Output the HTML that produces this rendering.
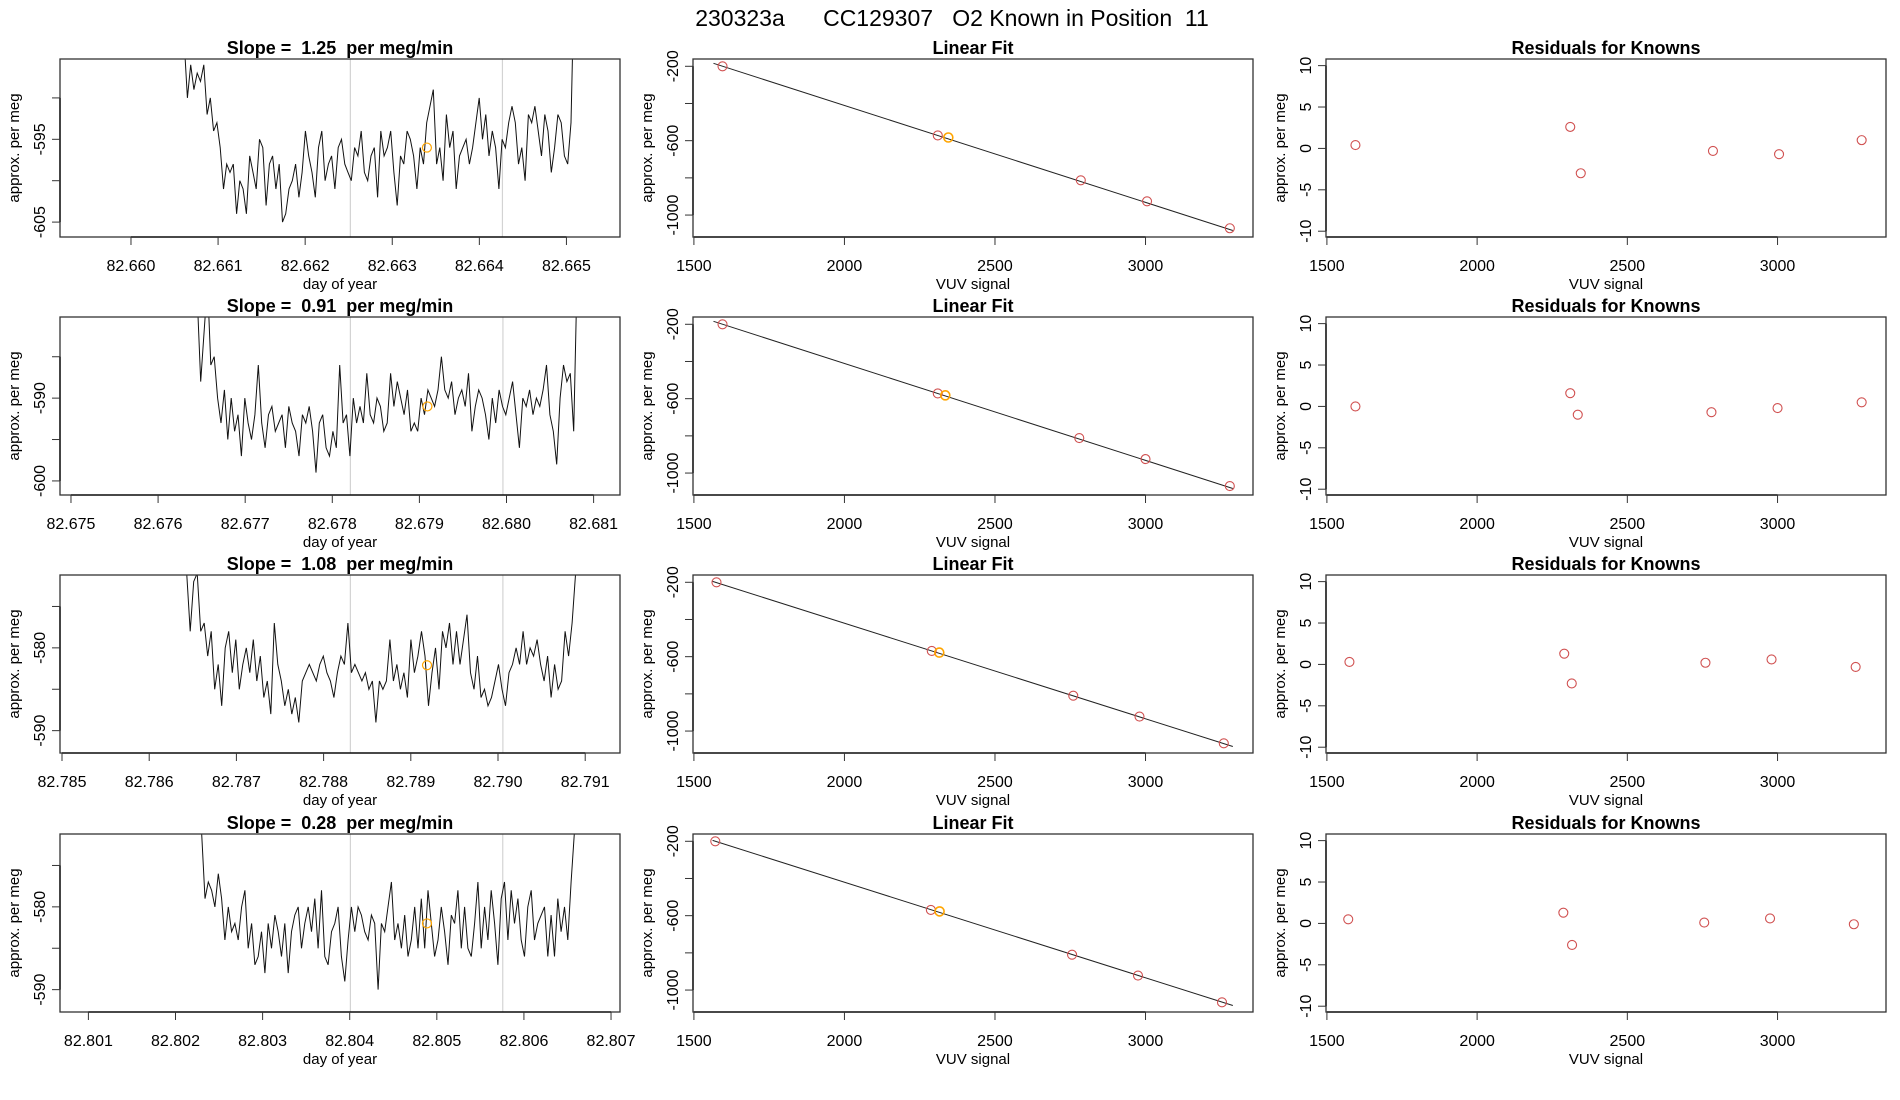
<!DOCTYPE html>
<html><head><meta charset="utf-8"><style>
html,body{margin:0;padding:0;background:#fff;}
svg{display:block;font-family:"Liberation Sans",sans-serif;}
</style></head><body>
<svg id="chart" width="1900" height="1100" viewBox="0 0 1900 1100" xmlns="http://www.w3.org/2000/svg">
<text x="952" y="26" font-size="23" text-anchor="middle" xml:space="preserve">230323a      CC129307   O2 Known in Position  11</text>
</svg>
<script>
// ---- data ----
const slopeLabels = ["1.25","0.91","1.08","0.28"];
const tsStart = [82.66061, 82.67645, 82.78643, 82.80230];
const tsEnd = [82.66509, 82.68081, 82.79089, 82.80658];
const xDomains = [[82.659185,82.665615],[82.674874,82.681303],[82.784977,82.791399],[82.800674,82.807103]];
const yDomains = [[-606.8,-585.3],[-601.7,-580.2],[-592.7,-571.2],[-592.7,-571.2]];
const xTicks = [[82.660,82.661,82.662,82.663,82.664,82.665],[82.675,82.676,82.677,82.678,82.679,82.680,82.681],[82.785,82.786,82.787,82.788,82.789,82.790,82.791],[82.801,82.802,82.803,82.804,82.805,82.806,82.807]];
const yTicks = [[-590,-595,-600,-605],[-585,-590,-595,-600],[-575,-580,-585,-590],[-575,-580,-585,-590]];
const yTickShown = [[-595,-605],[-590,-600],[-580,-590],[-580,-590]];
const greyLines = [[82.662519,82.664265],[82.678208,82.679959],[82.788307,82.790056],[82.804008,82.805757]];
const markX = [82.663398,82.679092,82.789186,82.804887];
const markY = [-596.0,-591.0,-582.1,-582.0];
const series1 = [-583,-590,-586,-589,-587,-588,-586,-592,-590,-594,-593,-596,-601,-598,-599,-598,-604,-600,-601,-604,-597,-599,-601,-595,-596,-603,-598,-597,-601,-598,-605,-604,-601,-600,-598,-602,-599,-594,-597,-599,-602,-596,-594,-600,-598,-597,-601,-596,-595,-598,-599,-600,-596,-597,-594,-599,-600,-597,-596,-602,-594,-597,-596,-594,-599,-603,-597,-598,-594,-595,-597,-601,-596,-598,-593,-591,-589,-598,-596,-600,-592,-596,-594,-601,-597,-596,-595,-598,-596,-593,-590,-595,-592,-597,-594,-596,-601,-595,-596,-593,-591,-593,-598,-596,-600,-592,-593,-591,-594,-597,-592,-594,-599,-596,-592,-593,-597,-598,-593,-575];
const series2 = [-578,-588,-582,-576,-586,-585,-590,-593,-589,-595,-590,-594,-592,-597,-590,-593,-595,-592,-586,-593,-596,-592,-591,-594,-593,-592,-596,-591,-593,-594,-597,-592,-593,-591,-594,-599,-593,-592,-596,-597,-594,-596,-586,-593,-592,-597,-590,-593,-591,-593,-587,-592,-593,-590,-591,-594,-593,-587,-591,-588,-590,-592,-589,-594,-593,-594,-590,-592,-589,-590,-591,-589,-585,-589,-590,-588,-592,-590,-589,-591,-587,-594,-591,-589,-590,-592,-595,-590,-593,-589,-591,-592,-590,-588,-592,-596,-590,-591,-589,-592,-590,-591,-589,-586,-592,-594,-598,-590,-586,-588,-587,-594,-575];
const series3 = [-571,-578,-572,-571,-578,-577,-581,-578,-585,-582,-587,-580,-578,-583,-579,-585,-582,-580,-583,-579,-584,-581,-586,-584,-588,-577,-582,-584,-587,-585,-588,-586,-589,-584,-583,-582,-583,-584,-582,-581,-583,-584,-586,-583,-581,-582,-577,-583,-582,-583,-584,-583,-585,-584,-589,-584,-585,-584,-579,-584,-582,-585,-583,-586,-579,-583,-581,-578,-581,-587,-583,-580,-585,-578,-580,-577,-582,-578,-582,-579,-576,-583,-585,-581,-586,-585,-587,-586,-584,-582,-585,-587,-583,-582,-580,-582,-578,-582,-580,-581,-579,-582,-584,-581,-586,-582,-585,-584,-578,-581,-577,-571];
const series4 = [-571,-579,-577,-578,-580,-576,-579,-584,-580,-583,-582,-584,-580,-578,-585,-582,-587,-586,-583,-588,-582,-585,-581,-583,-586,-582,-588,-583,-581,-580,-585,-582,-580,-583,-579,-585,-578,-586,-587,-583,-582,-580,-586,-589,-584,-580,-583,-580,-581,-583,-584,-581,-582,-590,-582,-583,-580,-577,-584,-582,-585,-581,-586,-584,-580,-585,-579,-585,-578,-582,-586,-584,-580,-583,-587,-581,-582,-578,-585,-580,-585,-586,-582,-577,-585,-580,-584,-578,-582,-587,-579,-577,-584,-578,-582,-579,-584,-586,-580,-578,-584,-582,-581,-580,-586,-581,-586,-579,-583,-580,-584,-577,-571];
const seriesAll = [series1, series2, series3, series4];
// linear fit panels
const fitX = [[1595,2310,2345,2785,3005,3280],[1595,2310,2335,2780,3000,3280],[1575,2290,2315,2760,2980,3260],[1571,2287,2316,2756,2975,3254]];
const fitY = [[-200,-572,-583,-813,-926,-1071],[-200,-572,-582,-812,-925,-1070],[-200,-569,-578,-810,-922,-1066],[-200,-569,-577,-810,-922,-1066]];
const fitLine = [[1565,-184,3290,-1083],[1565,-184,3290,-1083],[1562,-195,3290,-1083],[1562,-195,3290,-1083]];
const orangeIdx = [2,2,2,2];
const residuals = [[0.4,2.6,-3.0,-0.3,-0.7,1.0],[0.0,1.6,-1.0,-0.7,-0.2,0.5],[0.3,1.3,-2.3,0.2,0.6,-0.3],[0.5,1.3,-2.6,0.1,0.6,-0.1]];
const vuvTicks = [1500,2000,2500,3000];
const fitYTicks = [-200,-400,-600,-800,-1000];
const fitYShown = [-200,-600,-1000];
const resYTicks = [10,5,0,-5,-10];

// ---- layout ----
const svg = document.getElementById('chart');
const NS = 'http://www.w3.org/2000/svg';
const colX = [60,693,1326], PW = 560, PH = 178;
const rowY = [59,317,575,834];

function el(tag, attrs, name, parent) {
  const e = document.createElementNS(NS, tag);
  for (const k in attrs) e.setAttribute(k, attrs[k]);
  
  
  (parent || svg).appendChild(e);
  return e;
}
function txt(x, y, s, size, name, extra, parent) {
  const a = Object.assign({x: x, y: y, 'font-size': size, 'text-anchor': 'middle', fill: '#000'}, extra || {});
  const t = el('text', a, name, parent);
  t.textContent = s;
  return t;
}
function scale(d0, d1, r0, r1) { return v => r0 + (v - d0) / (d1 - d0) * (r1 - r0); }

function axes(g, x0, y0, xs, ys, xt, xtShown, yt, ytShown, xlab, ylab, title, xfmt, id) {
  txt(x0 + PW/2, y0 - 5, title, 18, id + '-title', {'font-weight': 'bold'}, g);
  el('rect', {x: x0, y: y0, width: PW, height: PH, fill: 'none', stroke: '#333', 'stroke-width': 1.3}, id + '-plot-box', g);
  const xa = el('g', {}, id + '-x-axis', g);
  el('line', {x1: xs(xt[0]), x2: xs(xt[xt.length-1]), y1: y0+PH, y2: y0+PH, stroke: '#000', 'stroke-width': 1.3}, id + '-x-axis-line', xa);
  xt.forEach(v => {
    el('line', {x1: xs(v), x2: xs(v), y1: y0+PH, y2: y0+PH+8, stroke: '#333'}, id + '-x-tick', xa);
    if (xtShown.includes(v)) txt(xs(v), y0+PH+34, xfmt(v), 16, id + '-x-tick-label', {}, xa);
  });
  txt(x0 + PW/2, y0+PH+52, xlab, 15, id + '-x-axis-title', {}, g);
  const ya = el('g', {}, id + '-y-axis', g);
  el('line', {x1: x0, x2: x0, y1: ys(yt[0]), y2: ys(yt[yt.length-1]), stroke: '#000', 'stroke-width': 1.3}, id + '-y-axis-line', ya);
  yt.forEach(v => {
    el('line', {x1: x0-8, x2: x0, y1: ys(v), y2: ys(v), stroke: '#333'}, id + '-y-tick', ya);
    if (ytShown.includes(v)) {
      const cx = x0 - 21, cy = ys(v);
      txt(cx, cy + 6, String(v), 16, id + '-y-tick-label', {transform: 'rotate(-90 ' + cx + ' ' + cy + ')'}, ya);
    }
  });
  const lx = x0 - 46, ly = y0 + PH/2;
  txt(lx, ly + 5, ylab, 15, id + '-y-axis-title', {transform: 'rotate(-90 ' + lx + ' ' + ly + ')'}, g);
}

const defs = el('defs', {}, 'clip-defs');

for (let r = 0; r < 4; r++) {
  const y0 = rowY[r];
  {
    const x0 = colX[0];
    const g = el('g', {}, 'timeseries-panel-row' + (r+1));
    const xs = scale(xDomains[r][0], xDomains[r][1], x0, x0 + PW);
    const ys = scale(yDomains[r][0], yDomains[r][1], y0 + PH, y0);
    const cp = el('clipPath', {id: 'clip' + r}, 'clip-row' + (r+1), defs);
    el('rect', {x: x0, y: y0, width: PW, height: PH}, 'clip-rect', cp);
    greyLines[r].forEach(v => {
      el('line', {x1: xs(v), x2: xs(v), y1: y0, y2: y0 + PH, stroke: '#d3d3d3', 'stroke-width': 1.2}, 'window-boundary-line', g);
    });
    const s = seriesAll[r], n = s.length;
    const dt = (tsEnd[r] - tsStart[r]) / (n - 1);
    const pts = s.map((v, i) => xs(tsStart[r] + i * dt).toFixed(1) + ',' + ys(v).toFixed(1)).join(' ');
    el('polyline', {points: pts, fill: 'none', stroke: '#111', 'stroke-width': 1, 'clip-path': 'url(#clip' + r + ')'}, 'signal-line', g);
    el('circle', {cx: xs(markX[r]), cy: ys(markY[r]), r: 4.5, fill: 'none', stroke: '#ffa500', 'stroke-width': 1.2}, 'known-mean-marker', g);
    axes(g, x0, y0, xs, ys, xTicks[r], xTicks[r], yTicks[r], yTickShown[r], 'day of year', 'approx. per meg',
      'Slope =  ' + slopeLabels[r] + '  per meg/min', v => v.toFixed(3), 'timeseries-r' + (r+1));
  }
  {
    const x0 = colX[1];
    const g = el('g', {}, 'linear-fit-panel-row' + (r+1));
    const xs = scale(1497, 3357, x0, x0 + PW);
    const ys = scale(-1118, -160.8, y0 + PH, y0);
    const L = fitLine[r];
    el('line', {x1: xs(L[0]), y1: ys(L[1]), x2: xs(L[2]), y2: ys(L[3]), stroke: '#222', 'stroke-width': 1}, 'fit-line', g);
    fitX[r].forEach((v, i) => {
      const orange = i === orangeIdx[r];
      el('circle', {cx: xs(v), cy: ys(fitY[r][i]), r: 4.5, fill: 'none', stroke: orange ? '#ffa500' : '#d05050', 'stroke-width': orange ? 1.6 : 1.1}, orange ? 'unknown-point' : 'known-point', g);
    });
    axes(g, x0, y0, xs, ys, vuvTicks, vuvTicks, fitYTicks, fitYShown, 'VUV signal', 'approx. per meg', 'Linear Fit', v => String(v), 'fit-r' + (r+1));
  }
  {
    const x0 = colX[2];
    const g = el('g', {}, 'residuals-panel-row' + (r+1));
    const xs = scale(1497, 3361, x0, x0 + PW);
    const ys = scale(-10.7, 10.8, y0 + PH, y0);
    residuals[r].forEach((v, i) => {
      el('circle', {cx: xs(fitX[r][i]), cy: ys(v), r: 4.5, fill: 'none', stroke: '#d05050', 'stroke-width': 1.1}, 'residual-point', g);
    });
    axes(g, x0, y0, xs, ys, vuvTicks, vuvTicks, resYTicks, resYTicks, 'VUV signal', 'approx. per meg', 'Residuals for Knowns', v => String(v), 'resid-r' + (r+1));
  }
}
document.querySelectorAll('text').forEach(t => t.setAttribute('xml:space', 'preserve'));
document.querySelectorAll('text').forEach(t => t.style.whiteSpace = 'pre');
</script>
</body></html>
